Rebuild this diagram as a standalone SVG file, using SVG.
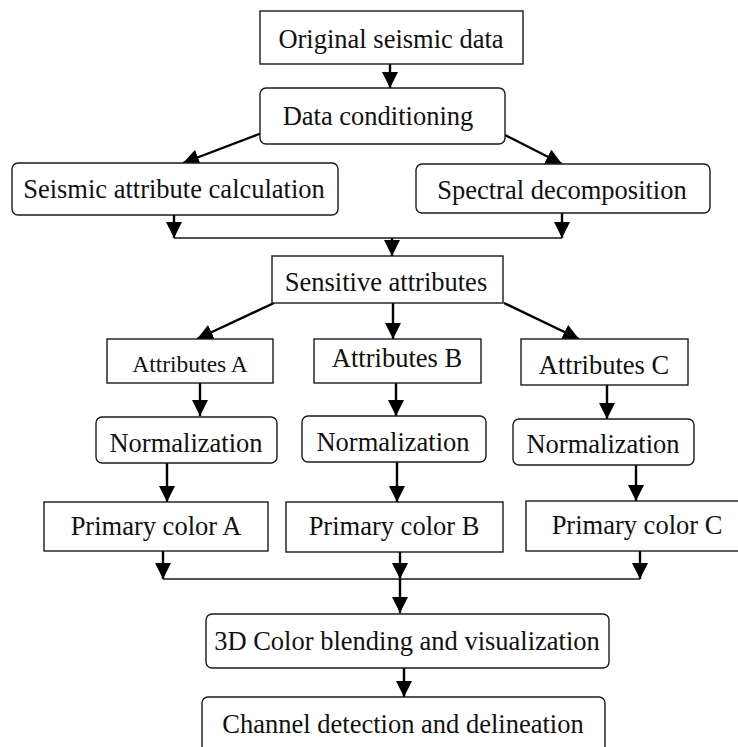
<svg xmlns="http://www.w3.org/2000/svg" width="738" height="747" viewBox="0 0 738 747">
<style>
.box{fill:#fff;stroke:#1a1a1a;stroke-width:1.4}
.t{font-family:"Liberation Serif","Times New Roman",serif;font-size:26.5px;fill:#111;text-anchor:middle}
.a{stroke:#000;stroke-width:2.4;fill:none;marker-end:url(#ah)}
.l{stroke:#1a1a1a;stroke-width:1.4;fill:none}
</style>
<defs>
<marker id="ah" markerUnits="userSpaceOnUse" markerWidth="18" markerHeight="18" viewBox="0 0 18 18" refX="16" refY="8" orient="auto">
<path d="M0,0 L16,8 L0,16 z" fill="#000"/>
</marker>
</defs>
<rect width="738" height="747" fill="#fff"/>
<g id="connectors">
<line class="a" x1="390" y1="64" x2="390" y2="88"/>
<line class="a" x1="262" y1="133" x2="183" y2="163"/>
<line class="a" x1="505" y1="135" x2="562" y2="164"/>
<line class="a" x1="174" y1="215" x2="174" y2="238"/>
<line class="a" x1="562" y1="213" x2="562" y2="238"/>
<line class="l" x1="174" y1="238" x2="562" y2="238"/>
<line class="a" x1="392" y1="238" x2="392" y2="256"/>
<line class="a" x1="274" y1="303" x2="197" y2="339"/>
<line class="a" x1="393" y1="303" x2="393" y2="339"/>
<line class="a" x1="504" y1="303" x2="579" y2="339"/>
<line class="a" x1="200" y1="383" x2="200" y2="416"/>
<line class="a" x1="396" y1="383" x2="396" y2="416"/>
<line class="a" x1="607" y1="385" x2="607" y2="419"/>
<line class="a" x1="167" y1="463" x2="167" y2="502"/>
<line class="a" x1="397" y1="462" x2="397" y2="502"/>
<line class="a" x1="636" y1="465" x2="636" y2="501"/>
<line class="a" x1="163" y1="551" x2="163" y2="579"/>
<line class="a" x1="400" y1="552" x2="400" y2="579"/>
<line class="a" x1="640" y1="551" x2="640" y2="579"/>
<line class="l" x1="163" y1="579" x2="640" y2="579"/>
<line class="a" x1="400" y1="579" x2="400" y2="613"/>
<line class="a" x1="404" y1="668" x2="404" y2="697"/>
</g>
<g id="original"><rect class="box" x="260" y="11" width="263" height="53"/><text class="t" x="391" y="48">Original seismic data</text></g>
<g id="conditioning"><rect class="box" x="260" y="88" width="245" height="56" rx="6"/><text class="t" x="378" y="125">Data conditioning</text></g>
<g id="attrcalc"><rect class="box" x="12" y="163" width="326" height="52" rx="6"/><text class="t" x="174" y="198">Seismic attribute calculation</text></g>
<g id="spectral"><rect class="box" x="416" y="164" width="294" height="49" rx="6"/><text class="t" x="562" y="199">Spectral decomposition</text></g>
<g id="sensitive"><rect class="box" x="272" y="256" width="231" height="47"/><text class="t" x="386" y="291">Sensitive attributes</text></g>
<g id="attrA"><rect class="box" x="107" y="339" width="166" height="44"/><text class="t" x="190" y="372" style="font-size:23.5px">Attributes A</text></g>
<g id="attrB"><rect class="box" x="314" y="339" width="167" height="44"/><text class="t" x="397" y="367">Attributes B</text></g>
<g id="attrC"><rect class="box" x="521" y="339" width="167" height="46"/><text class="t" x="604" y="374">Attributes C</text></g>
<g id="normA"><rect class="box" x="96" y="417" width="181" height="46" rx="6"/><text class="t" x="186" y="452">Normalization</text></g>
<g id="normB"><rect class="box" x="302" y="416" width="184" height="46" rx="6"/><text class="t" x="393" y="451">Normalization</text></g>
<g id="normC"><rect class="box" x="513" y="419" width="181" height="46" rx="6"/><text class="t" x="603" y="453">Normalization</text></g>
<g id="primA"><rect class="box" x="44" y="502" width="224" height="49"/><text class="t" x="156" y="535">Primary color A</text></g>
<g id="primB"><rect class="box" x="286" y="502" width="217" height="50"/><text class="t" x="394" y="535">Primary color B</text></g>
<g id="primC"><rect class="box" x="526" y="501" width="220" height="50"/><text class="t" x="637" y="534">Primary color C</text></g>
<g id="blend"><rect class="box" x="206" y="614" width="403" height="54" rx="6"/><text class="t" x="407" y="650">3D Color blending and visualization</text></g>
<g id="channel"><rect class="box" x="202" y="697" width="403" height="62" rx="6"/><text class="t" x="403" y="733">Channel detection and delineation</text></g>
</svg>
